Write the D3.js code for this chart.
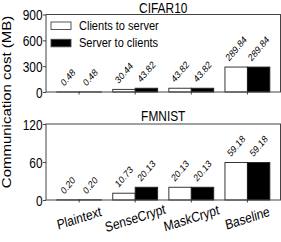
<!DOCTYPE html>
<html>
<head>
<meta charset="utf-8">
<script src="https://cdn.jsdelivr.net/npm/d3@7"></script>
<style>
  html, body { margin: 0; padding: 0; background: #fff; }
  svg { display: block; }
</style>
</head>
<body>
<div class="chart-container"></div>
<script>
// data
const groups = ['Plaintext', 'SenseCrypt', 'MaskCrypt', 'Baseline'];
const series = ['Clients to server', 'Server to clients'];
const cifarUp = [0.48, 30.44, 43.82, 289.84];
const cifarDown = [0.48, 43.82, 43.82, 289.84];
const fmnistUp = [0.20, 10.73, 20.13, 59.18];
const fmnistDown = [0.20, 20.13, 20.13, 59.18];
const cifarTicks = [0, 300, 600, 900];
const fmnistTicks = [0, 60, 120];

const width = 281;
const height = 242;
const font = '"Liberation Sans", Arial, sans-serif';
const sx = 0.85; // the picture is a bit narrow, squeeze the text the same way

const left = 46, right = 280.5;

const panels = [
  { title: 'CIFAR10', up: cifarUp, down: cifarDown, max: 900, ticks: cifarTicks, bottom: 92, top: 14.5, titleY: 12.5 },
  { title: 'FMNIST', up: fmnistUp, down: fmnistDown, max: 120, ticks: fmnistTicks, bottom: 200, top: 124, titleY: 121 }
];

const color = d3.scaleOrdinal().domain(series).range(['#fff', '#000']);

const x0 = d3.scaleBand()
  .domain(groups)
  .range([left, right])
  .paddingInner(0.2)
  .paddingOuter(0.19);

const x1 = d3.scaleBand()
  .domain(series)
  .range([0, x0.bandwidth()]);

const svg = d3.select('.chart-container')
  .append('svg')
  .attr('width', width)
  .attr('height', height)
  .attr('font-family', font);

// squeezed + rotated text placed at (x, y), one matrix
const tilt = (x, y, deg) => {
  const r = deg * Math.PI / 180, c = Math.cos(r), s = Math.sin(r);
  return `matrix(${sx * c},${s},${-sx * s},${c},${x},${y})`;
};

// rough label length at 10px (digits 5.56px, dot 2.78px)
const labLen = s => s.split('').reduce((a, ch) => a + (ch === '.' ? 2.78 : 5.56), 0);

panels.forEach(p => {
  const y = d3.scaleLinear().domain([0, p.max]).range([p.bottom, p.top]);

  // y axis
  const yAxis = svg.append('g')
    .attr('transform', `translate(${left},0)`)
    .call(d3.axisLeft(y).tickValues(p.ticks).tickSize(3).tickPadding(0).tickFormat(d3.format('d')));
  yAxis.select('.domain').remove();
  yAxis.selectAll('line').attr('stroke', '#444');
  yAxis.selectAll('text')
    .attr('font-family', font)
    .attr('font-size', '14px')
    .attr('fill', '#000')
    .attr('x', -3.5 / sx)
    .attr('dy', '0.36em')
    .attr('transform', `scale(${sx},1)`);

  // x axis ticks
  const xAxis = svg.append('g')
    .attr('transform', `translate(0,${p.bottom})`)
    .call(d3.axisBottom(x0).tickSize(2.5).tickFormat(''));
  xAxis.select('.domain').remove();
  xAxis.selectAll('line').attr('stroke', '#444');

  const barData = groups.flatMap((g, i) => series.map((k, j) => ({
    group: g, key: k, value: j === 0 ? p.up[i] : p.down[i]
  })));
  const bx = d => x0(d.group) + x1(d.key);

  // bars
  svg.append('g').selectAll('rect')
    .data(barData)
    .join('rect')
      .attr('x', bx)
      .attr('y', d => y(d.value))
      .attr('width', x1.bandwidth())
      .attr('height', d => y(0) - y(d.value))
      .attr('fill', d => color(d.key))
      .attr('stroke', '#222')
      .attr('stroke-width', 0.9);

  // value labels, rotated and sitting on top of each bar
  svg.append('g').selectAll('text')
    .data(barData)
    .join('text')
      .attr('font-size', '10px')
      .attr('text-anchor', 'middle')
      .attr('dy', '0.35em')
      .attr('transform', d => {
        const h = (labLen(d.value.toFixed(2)) + 7.5) * Math.SQRT1_2;
        return tilt(bx(d) + x1.bandwidth() / 2, y(d.value) - 5 - h / 2, -45);
      })
      .text(d => d.value.toFixed(2));

  // frame
  svg.append('rect')
    .attr('x', left)
    .attr('y', p.top)
    .attr('width', right - left)
    .attr('height', p.bottom - p.top)
    .attr('fill', 'none')
    .attr('stroke', '#444')
    .attr('stroke-width', 1);

  // title
  svg.append('text')
    .attr('transform', tilt((left + right) / 2, p.titleY, 0))
    .attr('text-anchor', 'middle')
    .attr('font-size', '14px')
    .text(p.title);
});

// category labels under the lower panel
const yLow = panels[1].bottom;
svg.append('g').selectAll('text')
  .data(groups)
  .join('text')
    .attr('transform', d => tilt(x0(d) + x0.bandwidth() / 2, yLow + 18, -15))
    .attr('text-anchor', 'middle')
    .attr('dy', '0.35em')
    .attr('font-size', '14px')
    .text(d => d);

// y label
svg.append('text')
  .attr('transform', `translate(10.5,102) scale(${sx},1) rotate(-90)`)
  .attr('text-anchor', 'middle')
  .attr('font-size', '15px')
  .text('Communication cost (MB)');

// legend
const legend = svg.append('g');
legend.selectAll('rect')
  .data(series)
  .join('rect')
    .attr('x', 51)
    .attr('y', (d, i) => 22 + i * 17.3)
    .attr('width', 20)
    .attr('height', 7.5)
    .attr('fill', color)
    .attr('stroke', '#444')
    .attr('stroke-width', 0.9);

legend.selectAll('text')
  .data(series)
  .join('text')
    .attr('transform', (d, i) => `translate(79,${30 + i * 17.3}) scale(${sx},1)`)
    .attr('font-size', '13px')
    .text(d => d);
</script>
</body>
</html>
